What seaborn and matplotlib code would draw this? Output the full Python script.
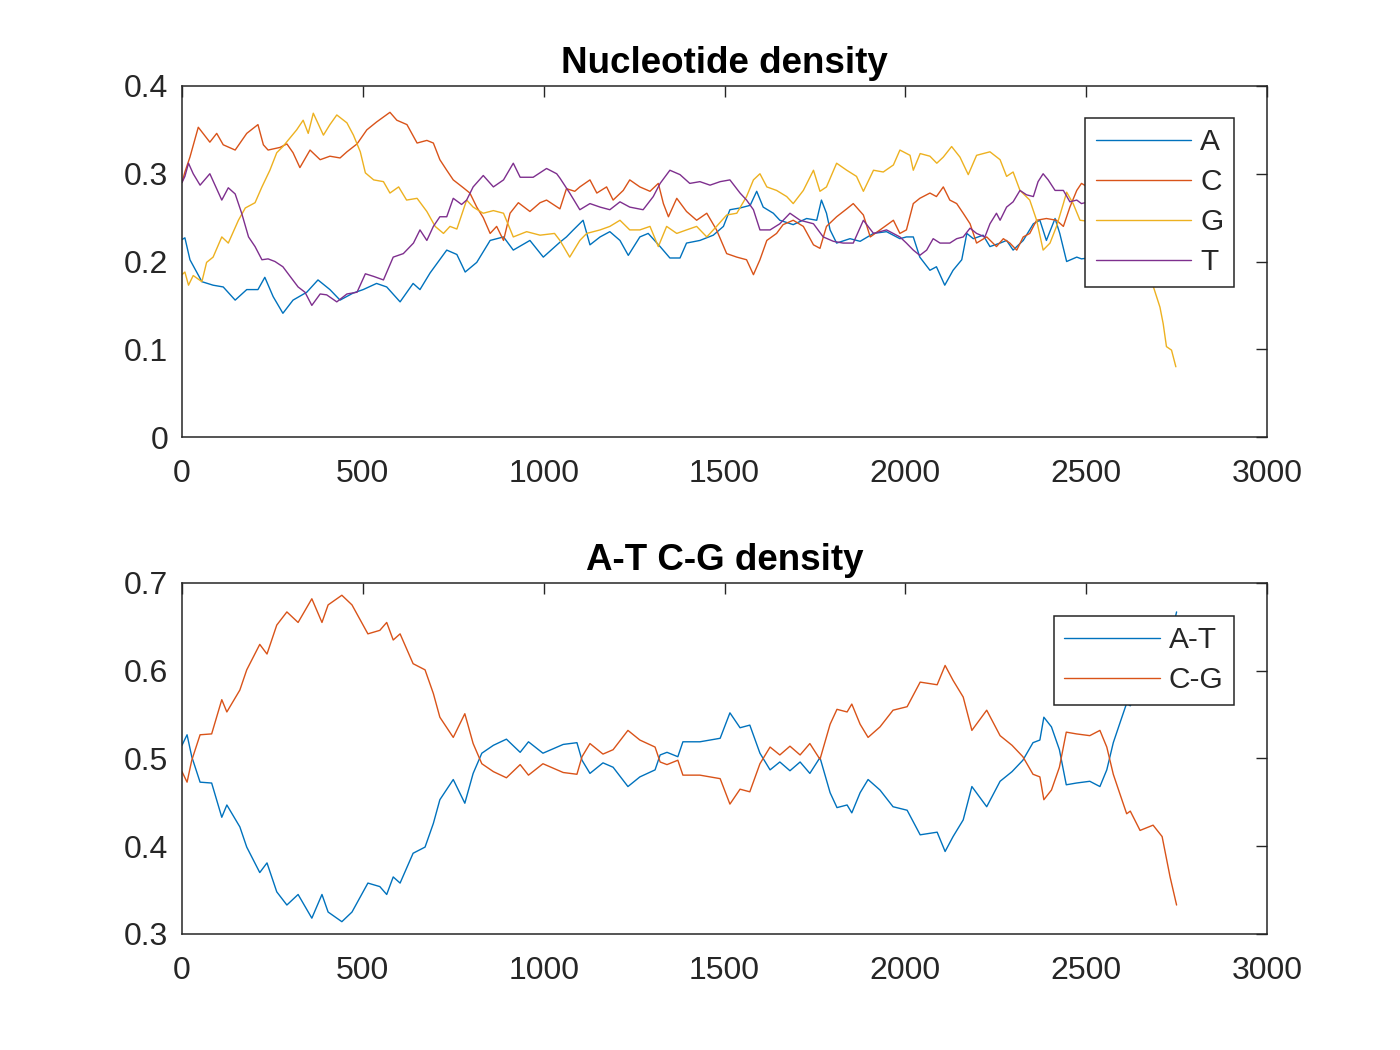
import matplotlib
matplotlib.use("Agg")
import matplotlib.pyplot as plt
import seaborn as sns

# Nucleotide density
a_x = [0, 8, 22, 55, 86, 114, 147, 179, 210, 229, 252, 279, 307, 345, 376, 409, 437, 473, 501, 538,
       566, 603, 639, 658, 686, 732, 760, 783, 815, 852, 889, 916, 962, 999, 1045, 1063, 1082, 1109, 1128, 1156,
       1183, 1211, 1234, 1266, 1289, 1322, 1349, 1377, 1395, 1432, 1469, 1497, 1515, 1543, 1571, 1589, 1607, 1635, 1653, 1690,
       1727, 1755, 1768, 1782, 1792, 1810, 1847, 1875, 1912, 1948, 1985, 2003, 2022, 2040, 2068, 2086, 2109, 2132, 2156, 2170,
       2188, 2215, 2234, 2262, 2280, 2298, 2326, 2354, 2372, 2390, 2414, 2427, 2446, 2474, 2487, 2525, 2575, 2625, 2675, 2725, 2750]
a_val = [0.225, 0.227, 0.202, 0.177, 0.173, 0.171, 0.156, 0.168, 0.168, 0.182, 0.160, 0.141, 0.156, 0.165, 0.179, 0.168, 0.156, 0.164, 0.168, 0.175,
         0.171, 0.154, 0.175, 0.168, 0.187, 0.213, 0.208, 0.188, 0.199, 0.224, 0.228, 0.213, 0.224, 0.205, 0.222, 0.228, 0.236, 0.247, 0.219, 0.228,
         0.234, 0.224, 0.207, 0.228, 0.232, 0.217, 0.204, 0.204, 0.221, 0.224, 0.230, 0.240, 0.259, 0.261, 0.264, 0.280, 0.262, 0.255, 0.247, 0.242,
         0.249, 0.247, 0.270, 0.255, 0.236, 0.221, 0.226, 0.223, 0.232, 0.234, 0.226, 0.228, 0.228, 0.205, 0.190, 0.194, 0.173, 0.190, 0.202, 0.232,
         0.226, 0.230, 0.217, 0.221, 0.224, 0.213, 0.224, 0.243, 0.247, 0.224, 0.249, 0.232, 0.200, 0.205, 0.203, 0.205, 0.230, 0.260, 0.270, 0.290, 0.320]

c_x = [0, 8, 22, 45, 77, 96, 114, 147, 179, 210, 225, 238, 271, 290, 307, 326, 354, 382, 409, 437,
       456, 484, 511, 538, 575, 594, 622, 650, 677, 695, 713, 732, 750, 778, 796, 815, 833, 852, 870, 889,
       907, 930, 962, 990, 1008, 1045, 1063, 1086, 1100, 1128, 1147, 1174, 1192, 1220, 1238, 1266, 1294, 1317, 1331, 1345,
       1368, 1395, 1423, 1451, 1478, 1506, 1534, 1561, 1580, 1598, 1617, 1644, 1662, 1690, 1718, 1746, 1764, 1782, 1810, 1838,
       1856, 1884, 1903, 1930, 1967, 1985, 2003, 2022, 2040, 2068, 2086, 2105, 2123, 2142, 2160, 2179, 2197, 2225, 2252, 2271,
       2289, 2308, 2326, 2344, 2363, 2390, 2418, 2437, 2455, 2474, 2487, 2525, 2575, 2625, 2675, 2725, 2750]
c_val = [0.290, 0.302, 0.319, 0.353, 0.336, 0.346, 0.333, 0.327, 0.346, 0.356, 0.333, 0.327, 0.330, 0.334, 0.324, 0.307, 0.327, 0.316, 0.320, 0.318,
         0.325, 0.334, 0.350, 0.359, 0.370, 0.361, 0.356, 0.335, 0.338, 0.335, 0.316, 0.304, 0.293, 0.284, 0.278, 0.262, 0.250, 0.232, 0.240, 0.224,
         0.255, 0.267, 0.257, 0.267, 0.270, 0.260, 0.283, 0.280, 0.285, 0.293, 0.278, 0.285, 0.270, 0.281, 0.293, 0.285, 0.280, 0.289, 0.266, 0.251,
         0.272, 0.257, 0.247, 0.255, 0.236, 0.209, 0.205, 0.202, 0.185, 0.202, 0.224, 0.232, 0.242, 0.247, 0.240, 0.219, 0.215, 0.240, 0.251, 0.260,
         0.266, 0.253, 0.228, 0.236, 0.247, 0.232, 0.236, 0.266, 0.272, 0.278, 0.274, 0.285, 0.270, 0.266, 0.255, 0.243, 0.221, 0.228, 0.217, 0.226,
         0.221, 0.213, 0.228, 0.232, 0.247, 0.249, 0.247, 0.240, 0.262, 0.281, 0.289, 0.280, 0.260, 0.220, 0.235, 0.275, 0.253]

g_x = [0, 8, 18, 31, 55, 68, 86, 110, 128, 156, 175, 202, 221, 243, 262, 279, 299, 317, 335, 349,
       363, 391, 409, 428, 456, 474, 493, 507, 530, 557, 575, 599, 621, 650, 677, 700, 723, 741, 760, 787,
       805, 833, 861, 889, 916, 953, 990, 1030, 1045, 1072, 1100, 1119, 1156, 1183, 1211, 1238, 1266, 1294, 1317, 1340,
       1368, 1395, 1423, 1451, 1478, 1506, 1534, 1561, 1580, 1598, 1617, 1644, 1672, 1690, 1718, 1746, 1764, 1782, 1810, 1838,
       1865, 1884, 1912, 1939, 1967, 1985, 2013, 2022, 2041, 2068, 2087, 2105, 2128, 2151, 2174, 2197, 2234, 2262, 2280, 2298,
       2317, 2344, 2363, 2381, 2400, 2418, 2437, 2446, 2464, 2483, 2525, 2575, 2625, 2675, 2686, 2704, 2713, 2722, 2736, 2748]
g_val = [0.185, 0.188, 0.173, 0.184, 0.177, 0.199, 0.205, 0.228, 0.221, 0.247, 0.261, 0.267, 0.285, 0.304, 0.324, 0.331, 0.341, 0.350, 0.361, 0.346,
         0.369, 0.344, 0.356, 0.367, 0.358, 0.344, 0.325, 0.301, 0.293, 0.291, 0.278, 0.285, 0.270, 0.272, 0.257, 0.240, 0.232, 0.240, 0.237, 0.270,
         0.262, 0.255, 0.258, 0.255, 0.228, 0.234, 0.230, 0.232, 0.224, 0.205, 0.224, 0.232, 0.236, 0.240, 0.247, 0.236, 0.236, 0.240, 0.217, 0.240,
         0.232, 0.236, 0.240, 0.228, 0.240, 0.253, 0.255, 0.274, 0.293, 0.300, 0.285, 0.281, 0.274, 0.266, 0.281, 0.304, 0.280, 0.285, 0.312, 0.304,
         0.297, 0.280, 0.304, 0.302, 0.310, 0.327, 0.321, 0.304, 0.323, 0.320, 0.312, 0.319, 0.331, 0.319, 0.299, 0.321, 0.325, 0.316, 0.297, 0.302,
         0.281, 0.270, 0.247, 0.213, 0.221, 0.240, 0.266, 0.279, 0.266, 0.247, 0.245, 0.235, 0.215, 0.185, 0.171, 0.148, 0.129, 0.103, 0.099, 0.080]

t_x = [0, 8, 18, 31, 50, 77, 110, 128, 147, 165, 184, 202, 221, 238, 257, 279, 299, 321, 340, 359,
       382, 400, 428, 456, 484, 507, 530, 557, 584, 612, 640, 658, 677, 695, 713, 732, 750, 773, 787, 805,
       833, 861, 889, 916, 935, 971, 1008, 1036, 1045, 1072, 1100, 1128, 1156, 1183, 1211, 1238, 1275, 1303, 1322, 1349,
       1377, 1404, 1432, 1460, 1488, 1515, 1543, 1561, 1580, 1598, 1626, 1653, 1681, 1709, 1746, 1773, 1801, 1828, 1856, 1884,
       1912, 1948, 1985, 2003, 2022, 2040, 2059, 2077, 2096, 2123, 2142, 2160, 2179, 2197, 2220, 2234, 2252, 2262, 2280, 2298,
       2317, 2335, 2354, 2367, 2381, 2395, 2414, 2437, 2455, 2474, 2487, 2525, 2575, 2625, 2675, 2725, 2750]
t_val = [0.290, 0.297, 0.312, 0.300, 0.287, 0.300, 0.270, 0.284, 0.277, 0.255, 0.228, 0.217, 0.202, 0.203, 0.200, 0.194, 0.183, 0.171, 0.165, 0.150,
         0.163, 0.162, 0.154, 0.163, 0.165, 0.186, 0.183, 0.179, 0.205, 0.209, 0.221, 0.236, 0.224, 0.240, 0.251, 0.251, 0.272, 0.265, 0.270, 0.285,
         0.298, 0.285, 0.293, 0.312, 0.296, 0.296, 0.306, 0.300, 0.295, 0.278, 0.259, 0.266, 0.262, 0.259, 0.268, 0.262, 0.259, 0.274, 0.289, 0.304,
         0.299, 0.289, 0.291, 0.287, 0.291, 0.293, 0.278, 0.270, 0.259, 0.236, 0.236, 0.243, 0.255, 0.247, 0.243, 0.228, 0.223, 0.221, 0.221, 0.247,
         0.232, 0.236, 0.228, 0.221, 0.213, 0.207, 0.213, 0.226, 0.221, 0.221, 0.226, 0.228, 0.238, 0.232, 0.228, 0.243, 0.255, 0.247, 0.262, 0.268,
         0.281, 0.276, 0.274, 0.291, 0.300, 0.293, 0.281, 0.281, 0.268, 0.270, 0.266, 0.270, 0.275, 0.305, 0.310, 0.335, 0.347]

# A-T / C-G density
pair_x = [0, 14, 27, 50, 82, 110, 124, 160, 179, 215, 235, 262, 290, 321, 359, 387, 404, 442, 470, 514,
          547, 566, 584, 603, 639, 672, 695, 713, 750, 782, 805, 829, 861, 897, 935, 958, 998, 1054, 1092, 1106,
          1128, 1164, 1192, 1233, 1266, 1308, 1322, 1341, 1371, 1385, 1432, 1488, 1515, 1543, 1570, 1598, 1626, 1653, 1681, 1709,
          1736, 1764, 1792, 1811, 1839, 1852, 1875, 1897, 1930, 1966, 2005, 2041, 2088, 2110, 2132, 2160, 2184, 2225, 2262, 2295,
          2325, 2353, 2372, 2383, 2404, 2426, 2445, 2473, 2510, 2538, 2557, 2575, 2593, 2612, 2622, 2649, 2685, 2710, 2732, 2750]
at_val = [0.515, 0.527, 0.502, 0.473, 0.472, 0.433, 0.447, 0.422, 0.399, 0.370, 0.381, 0.348, 0.333, 0.345, 0.318, 0.345, 0.325, 0.314, 0.325, 0.358,
          0.354, 0.345, 0.365, 0.358, 0.392, 0.399, 0.426, 0.453, 0.476, 0.449, 0.483, 0.506, 0.515, 0.522, 0.507, 0.519, 0.506, 0.516, 0.518, 0.498,
          0.483, 0.495, 0.490, 0.468, 0.479, 0.487, 0.504, 0.507, 0.502, 0.519, 0.519, 0.523, 0.552, 0.535, 0.538, 0.506, 0.487, 0.496, 0.486, 0.496,
          0.483, 0.501, 0.461, 0.444, 0.447, 0.438, 0.461, 0.476, 0.464, 0.445, 0.441, 0.413, 0.416, 0.394, 0.411, 0.430, 0.468, 0.445, 0.474, 0.485,
          0.498, 0.518, 0.521, 0.547, 0.536, 0.510, 0.470, 0.472, 0.474, 0.468, 0.487, 0.518, 0.540, 0.563, 0.560, 0.582, 0.576, 0.589, 0.635, 0.667]
cg_val = [0.485, 0.473, 0.498, 0.527, 0.528, 0.567, 0.553, 0.578, 0.601, 0.630, 0.619, 0.652, 0.667, 0.655, 0.682, 0.655, 0.675, 0.686, 0.675, 0.642,
          0.646, 0.655, 0.635, 0.642, 0.608, 0.601, 0.574, 0.547, 0.524, 0.551, 0.517, 0.494, 0.485, 0.478, 0.493, 0.481, 0.494, 0.484, 0.482, 0.502,
          0.517, 0.505, 0.510, 0.532, 0.521, 0.513, 0.496, 0.493, 0.498, 0.481, 0.481, 0.477, 0.448, 0.465, 0.462, 0.494, 0.513, 0.504, 0.514, 0.504,
          0.517, 0.499, 0.539, 0.556, 0.553, 0.562, 0.539, 0.524, 0.536, 0.555, 0.559, 0.587, 0.584, 0.606, 0.589, 0.570, 0.532, 0.555, 0.526, 0.515,
          0.502, 0.482, 0.479, 0.453, 0.464, 0.490, 0.530, 0.528, 0.526, 0.532, 0.513, 0.482, 0.460, 0.437, 0.440, 0.418, 0.424, 0.411, 0.365, 0.333]

x_ticks = [0, 500, 1000, 1500, 2000, 2500, 3000]
top_yticks = [0, 0.1, 0.2, 0.3, 0.4]
bottom_yticks = [0.3, 0.4, 0.5, 0.6, 0.7]

blue, red, yellow, purple = "#0072BD", "#D95319", "#EDB120", "#7E2F8E"

sns.set_style("white")
plt.rcParams["font.family"] = ["Liberation Sans", "DejaVu Sans"]

fig = plt.figure(figsize=(14, 10.5), dpi=100)
ax1 = fig.add_axes([0.13, 0.5838, 0.775, 0.3343])
ax2 = fig.add_axes([0.13, 0.1105, 0.775, 0.3343])

lw = 1.0
sns.lineplot(x=a_x, y=a_val, ax=ax1, color=blue, label="A", linewidth=lw, estimator=None, sort=False)
sns.lineplot(x=c_x, y=c_val, ax=ax1, color=red, label="C", linewidth=lw, estimator=None, sort=False)
sns.lineplot(x=g_x, y=g_val, ax=ax1, color=yellow, label="G", linewidth=lw, estimator=None, sort=False)
sns.lineplot(x=t_x, y=t_val, ax=ax1, color=purple, label="T", linewidth=lw, estimator=None, sort=False)

sns.lineplot(x=pair_x, y=at_val, ax=ax2, color=blue, label="A-T", linewidth=lw, estimator=None, sort=False)
sns.lineplot(x=pair_x, y=cg_val, ax=ax2, color=red, label="C-G", linewidth=lw, estimator=None, sort=False)


def style_axes(ax, yticks, title):
    ax.set_xlim(0, 3000)
    ax.set_ylim(yticks[0], yticks[-1])
    ax.set_xticks(x_ticks)
    ax.set_yticks(yticks)
    ax.set_xticklabels([f"{v:g}" for v in x_ticks])
    ax.set_yticklabels([f"{v:g}" for v in yticks])
    ax.tick_params(direction="in", length=8, width=1, top=True, right=True,
                   labelsize=23, labelcolor="#262626", color="#262626")
    ax.tick_params(axis="x", pad=16)
    ax.tick_params(axis="y", pad=10)
    for sp in ax.spines.values():
        sp.set_visible(True)
        sp.set_color("#262626")
        sp.set_linewidth(1.1)
    ax.set_xlabel("")
    ax.set_ylabel("")
    ax.set_title(title, fontsize=26.5, fontweight="bold", color="black", pad=9)


style_axes(ax1, top_yticks, "Nucleotide density")
style_axes(ax2, bottom_yticks, "A-T C-G density")

for ax, dy in [(ax1, 32 / 351), (ax2, 33 / 351)]:
    leg = ax.legend(loc="upper right", bbox_to_anchor=(1 - 33 / 1085, 1 - dy), borderaxespad=0,
                    fancybox=False, framealpha=1, edgecolor="#262626", fontsize=21.5,
                    handlelength=3.2, handletextpad=0.3, labelspacing=0.4, borderpad=0.35)
    leg.get_frame().set_linewidth(1.1)

fig.savefig("out.png", dpi=100)
